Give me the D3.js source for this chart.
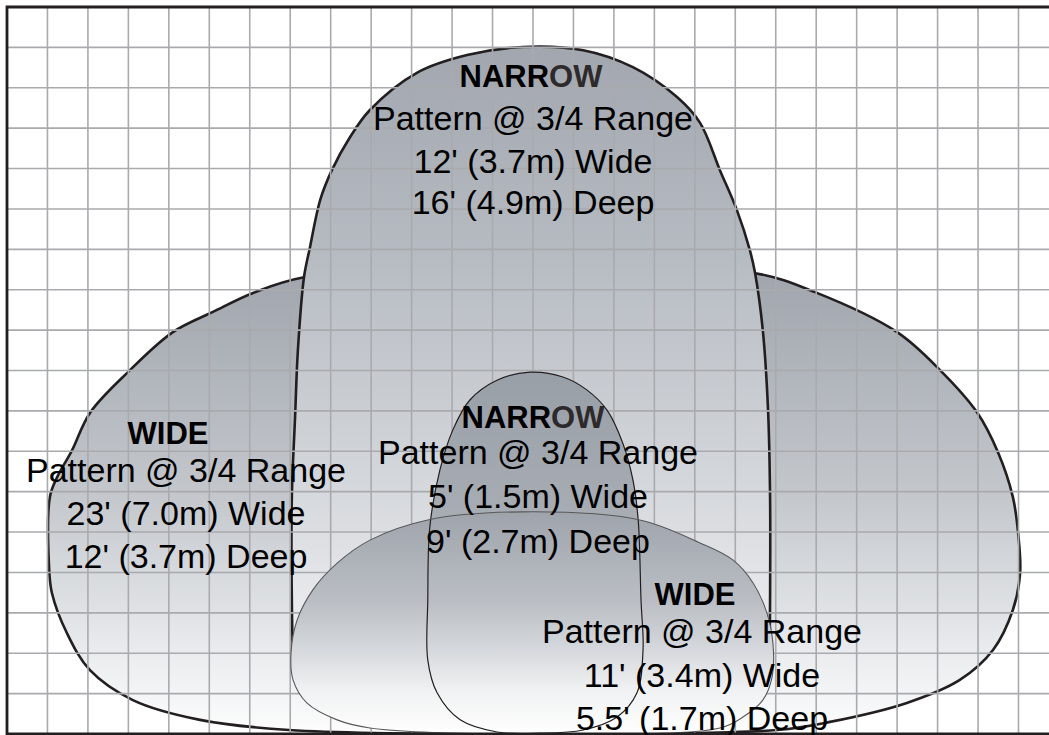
<!DOCTYPE html>
<html>
<head>
<meta charset="utf-8">
<script src="https://cdn.jsdelivr.net/npm/d3@7"></script>
<style>
  html, body { margin: 0; padding: 0; background: #fff; }
  svg { display: block; }
</style>
</head>
<body>
<div id="chart"></div>
<script>
// spray pattern outlines, in feet: [across from centre, up from nozzle line]
var bigWide = [[0, 0], [-6.03, 0.1], [-8.23, 0.35], [-9.89, 0.84], [-10.95, 1.58], [-11.52, 2.5],
  [-11.89, 3.49], [-11.96, 4.13], [-11.94, 5.87], [-11.76, 6.36], [-11.39, 7.03], [-10.95, 7.95],
  [-10.01, 8.96], [-8.9, 9.95], [-7.91, 10.45], [-6.92, 10.92], [-5.66, 11.31], [0, 11.7],
  [5.49, 11.41], [6.97, 10.94], [9.0, 9.95], [10.06, 9.01], [10.97, 7.97], [11.49, 6.98],
  [11.86, 5.87], [11.99, 4.98], [12.04, 3.99], [11.86, 3.07], [11.37, 2.08], [10.55, 1.34],
  [9.24, 0.77], [7.34, 0.3], [6.03, 0.1]];

// the lower part of this one is hidden under the small wide pattern
var bigNarrow = [[0, 0.1], [-3.95, 0.22], [-4.78, 0.42], [-5.5, 0.85], [-5.86, 1.4], [-5.93, 2.05],
  [-5.96, 3.32], [-5.96, 5.87], [-5.88, 7.85], [-5.81, 9.51],
  [-5.66, 11.31], [-5.51, 12.06], [-5.26, 13.22], [-4.97, 13.96], [-4.52, 14.78], [-4.03, 15.45],
  [-2.87, 16.37], [-1.63, 16.81], [-0.25, 17.01], [1.24, 16.93], [2.47, 16.51], [3.56, 15.77],
  [4.13, 15.13], [4.62, 13.96], [5.04, 12.97], [5.36, 11.98], [5.49, 11.41], [5.68, 10.0],
  [5.81, 8.02], [5.86, 5.87], [5.86, 3.32], [5.85, 2.25], [5.83, 1.45], [5.6, 0.9],
  [5.12, 0.49], [4.55, 0.22]];

var smallNarrow = [[0.17, 0.02], [-0.89, 0.05], [-1.8, 0.35], [-2.37, 1.02], [-2.6, 1.83],
  [-2.6, 3.32], [-2.55, 5.12], [-2.3, 6.54], [-1.98, 7.53], [-1.56, 8.27], [-0.89, 8.76],
  [-0.07, 8.96], [0.74, 8.84], [1.33, 8.52], [1.83, 8.02], [2.22, 7.2], [2.47, 6.29],
  [2.6, 5.3], [2.67, 3.32], [2.72, 2.08], [2.57, 1.02], [2.08, 0.42], [1.24, 0.1]];

var smallWide = [[0, 0], [-4.03, 0.15], [-4.84, 0.35], [-5.59, 0.77], [-5.93, 1.34], [-5.98, 2.01],
  [-5.83, 2.82], [-5.44, 3.57], [-4.84, 4.23], [-4.03, 4.8], [-2.6, 5.3], [-0.25, 5.5],
  [2.64, 5.3], [4.13, 4.73], [4.94, 4.31], [5.44, 3.74], [5.78, 3.0], [5.93, 2.25],
  [5.91, 1.41], [5.68, 0.84], [5.19, 0.42], [4.62, 0.15]];

// grid, one line per foot
var gridX = d3.range(-12, 13);
var gridY = d3.range(1, 18);

// label texts
var bigNarrowText = ["Pattern @ 3/4 Range", "12' (3.7m) Wide", "16' (4.9m) Deep"];
var bigWideText = ["Pattern @ 3/4 Range", "23' (7.0m) Wide", "12' (3.7m) Deep"];
var smallNarrowText = ["Pattern @ 3/4 Range", "5' (1.5m) Wide", "9' (2.7m) Deep"];
var smallWideText = ["Pattern @ 3/4 Range", "11' (3.4m) Wide", "5.5' (1.7m) Deep"];

var W = 1049, H = 735;

//////// SCALES ////////
var x = d3.scaleLinear().domain([-13, 13]).range([7, 7 + 26 * 40.46]);
var y = d3.scaleLinear().domain([0, 18]).range([734, 7]);

var svg = d3.select("#chart").append("svg")
    .attr("width", W)
    .attr("height", H);

var defs = svg.append("defs");

function grad(id, stops) {
  var g = defs.append("linearGradient")
      .attr("id", id)
      .attr("x1", 0).attr("y1", 0).attr("x2", 0).attr("y2", 1);
  stops.forEach(function(s) {
    g.append("stop").attr("offset", s[0]).attr("stop-color", s[1]);
  });
}
grad("gA", [[0, "#9fa4ac"], [0.5, "#c4c8cd"], [0.85, "#eceef0"], [1, "#fdfdfd"]]);
grad("gB", [[0, "#a2a7af"], [0.3, "#b6bbc2"], [0.66, "#d6d9dd"], [0.92, "#f3f4f5"], [1, "#ffffff"]]);
grad("gC", [[0, "#999fa7"], [0.4, "#a8adb4"], [0.75, "#dcdee1"], [1, "#ffffff"]]);
grad("gD", [[0, "#9fa4ac"], [0.4, "#babec4"], [0.62, "#d5d8dc"], [0.8, "#f0f1f2"], [1, "#ffffff"]]);

defs.append("clipPath").attr("id", "frame")
  .append("rect").attr("x", 7).attr("y", 7).attr("width", W).attr("height", 727);

var line = d3.line()
    .x(function(d) { return x(d[0]); })
    .y(function(d) { return y(d[1]); })
    .curve(d3.curveCatmullRomClosed.alpha(0.5));

var g = svg.append("g").attr("clip-path", "url(#frame)");

// big patterns sit under the grid
g.append("path").attr("d", line(bigWide))
    .attr("fill", "url(#gA)").attr("stroke", "#231f20").attr("stroke-width", 2.6);
g.append("path").attr("d", line(bigNarrow))
    .attr("fill", "url(#gB)").attr("stroke", "#231f20").attr("stroke-width", 2.6);

// GRID
g.append("g").selectAll("line.v")
  .data(gridX)
  .enter().append("line")
    .attr("x1", function(d) { return x(d); })
    .attr("x2", function(d) { return x(d); })
    .attr("y1", 7).attr("y2", H)
    .attr("stroke", "#a9aaad").attr("stroke-width", 1.6);
g.append("g").selectAll("line.h")
  .data(gridY)
  .enter().append("line")
    .attr("y1", function(d) { return y(d); })
    .attr("y2", function(d) { return y(d); })
    .attr("x1", 7).attr("x2", W)
    .attr("stroke", "#a9aaad").attr("stroke-width", 1.6);

// small patterns are opaque over the grid
g.append("path").attr("d", line(smallNarrow)).attr("fill", "url(#gC)");
g.append("path").attr("d", line(smallWide)).attr("fill", "url(#gD)");
g.append("path").attr("d", line(smallNarrow))
    .attr("fill", "none").attr("stroke", "#231f20").attr("stroke-width", 1.2);
g.append("path").attr("d", line(smallWide))
    .attr("fill", "none").attr("stroke", "#58585a").attr("stroke-width", 1.1);

// FRAME
svg.append("path")
    .attr("d", "M" + W + ",7H7V734H" + W)
    .attr("fill", "none").attr("stroke", "#231f20").attr("stroke-width", 2.8);

//////// LABELS ////////
var font = "'Liberation Sans', Arial, sans-serif";

function label(head, headX, headY, lines, cx, baselines) {
  var t = svg.append("text")
      .attr("x", headX).attr("y", headY)
      .attr("text-anchor", "middle")
      .attr("font-family", font)
      .attr("font-weight", "bold")
      .attr("font-size", 31)
      .attr("fill", "#000");
  if (head === "NARROW") {
    t.append("tspan").text("NARR");
    t.append("tspan").attr("fill", "#2e2a2b").text("OW");
  } else {
    t.text(head);
  }
  svg.append("g").selectAll("text")
    .data(lines)
    .enter().append("text")
      .attr("x", cx)
      .attr("y", function(d, i) { return baselines[i]; })
      .attr("text-anchor", "middle")
      .attr("font-family", font)
      .attr("font-size", 34)
      .attr("fill", "#000")
      .text(function(d) { return d; });
}

label("NARROW", 531, 87, bigNarrowText, 533, [129.5, 172.5, 214]);
label("WIDE", 168, 444, bigWideText, 186, [482, 525, 568]);
label("NARROW", 533, 428, smallNarrowText, 538, [464, 508, 553]);
label("WIDE", 695, 605, smallWideText, 702, [643, 687, 730]);
</script>
</body>
</html>
